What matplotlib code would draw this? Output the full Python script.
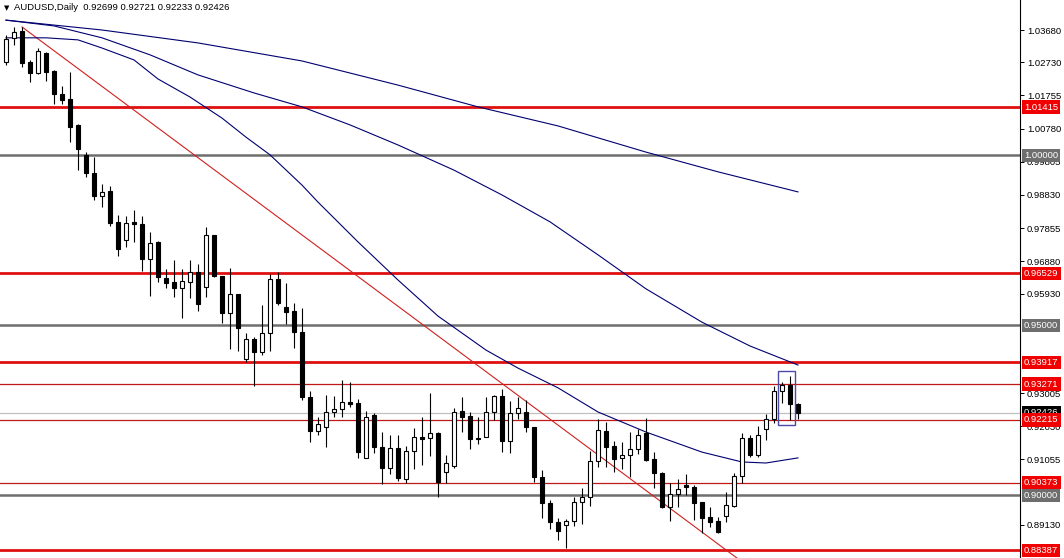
import matplotlib
matplotlib.use("Agg")
import matplotlib.pyplot as plt
import numpy as np

plt.rcParams['font.family'] = ['Liberation Sans', 'DejaVu Sans']

# daily candles AUDUSD
opens = [1.02739, 1.03445, 1.03651, 1.02739, 1.02416, 1.03004, 1.02475, 1.01798, 1.01651, 1.00887,
         1.00005, 0.99476, 0.98800, 0.98947, 0.98035, 0.97506, 0.98035, 0.97976, 0.96947, 0.97447,
         0.96389, 0.96271, 0.96095, 0.96271, 0.96565, 0.96124, 0.97653, 0.96448, 0.95360, 0.95918,
         0.94007, 0.94595, 0.94213, 0.94772, 0.96359, 0.95536, 0.95419, 0.94801, 0.92890, 0.91891,
         0.92008, 0.92449, 0.92537, 0.92743, 0.92714, 0.91097, 0.92361, 0.91420, 0.90803, 0.91391,
         0.90479, 0.91303, 0.91714, 0.91685, 0.91832, 0.90685, 0.90862, 0.92479, 0.92332, 0.91685,
         0.91714, 0.92449, 0.92920, 0.91597, 0.92420, 0.92449, 0.92008, 0.90538, 0.89774, 0.89215,
         0.89127, 0.89245, 0.89803, 0.89950, 0.91009, 0.91891, 0.91450, 0.91097, 0.91185, 0.91361,
         0.91832, 0.91067, 0.90656, 0.89656, 0.90038, 0.90303, 0.90244, 0.89803, 0.89362, 0.89245,
         0.89392, 0.89686, 0.90568, 0.91685, 0.91185, 0.91949, 0.92243, 0.93067, 0.93243, 0.92699]
highs = [1.03533, 1.03768, 1.03768, 1.02798, 1.03151, 1.03033, 1.02504, 1.02034, 1.02445, 1.00916,
         1.00093, 0.99946, 0.99152, 0.99094, 0.98241, 0.98212, 0.98388, 0.98212, 0.97741, 0.97477,
         0.96653, 0.96918, 0.96653, 0.96918, 0.96800, 0.97888, 0.97653, 0.96448, 0.96683, 0.95918,
         0.94772, 0.94654, 0.95595, 0.96506, 0.96565, 0.96242, 0.95654, 0.95507, 0.93067, 0.92302,
         0.92949, 0.92920, 0.93390, 0.93331, 0.92831, 0.92479, 0.92420, 0.91861, 0.91773, 0.91773,
         0.91450, 0.91979, 0.92302, 0.93008, 0.91861, 0.91185, 0.92567, 0.92890, 0.92449, 0.92302,
         0.92890, 0.92949, 0.93125, 0.92773, 0.92890, 0.92802, 0.92008, 0.90744, 0.89862, 0.89333,
         0.89303, 0.89950, 0.90215, 0.91303, 0.92243, 0.92155, 0.91597, 0.91567, 0.91861, 0.91949,
         0.92273, 0.91273, 0.90685, 0.90362, 0.90479, 0.90626, 0.90303, 0.89803, 0.89656, 0.89362,
         0.90097, 0.90656, 0.91832, 0.91773, 0.92038, 0.92390, 0.93214, 0.93331, 0.93508, 0.92721]
lows = [1.02651, 1.03239, 1.02592, 1.02151, 1.02386, 1.02181, 1.01504, 1.01504, 1.00387, 0.99564,
        0.99358, 0.98682, 0.98476, 0.97918, 0.97036, 0.97300, 0.97447, 0.96595, 0.95860, 0.96271,
        0.96095, 0.95830, 0.95213, 0.95801, 0.95419, 0.95830, 0.96418, 0.95066, 0.94301, 0.94243,
        0.93919, 0.93214, 0.94125, 0.94243, 0.95595, 0.95036, 0.94331, 0.92802, 0.91567, 0.91773,
        0.91420, 0.92302, 0.92302, 0.92596, 0.91097, 0.91097, 0.91244, 0.90332, 0.90626, 0.90421,
        0.90362, 0.90773, 0.90891, 0.91156, 0.89950, 0.90362, 0.90803, 0.91861, 0.91361, 0.91508,
        0.91714, 0.92214, 0.91273, 0.91244, 0.92243, 0.91861, 0.90391, 0.89333, 0.89009, 0.88686,
        0.88451, 0.89098, 0.89156, 0.89686, 0.90832, 0.90832, 0.90685, 0.90773, 0.90538, 0.91214,
        0.91009, 0.90215, 0.89627, 0.89245, 0.89656, 0.90009, 0.89274, 0.88892, 0.89068, 0.88892,
        0.89215, 0.89656, 0.90362, 0.91126, 0.91126, 0.91626, 0.92126, 0.92714, 0.92214, 0.92233]
closes = [1.03415, 1.03621, 1.02710, 1.02416, 1.03063, 1.02445, 1.01798, 1.01622, 1.00828, 1.00181,
          0.99476, 0.98800, 0.98917, 0.98006, 0.97241, 0.98006, 0.97976, 0.96947, 0.97418, 0.96418,
          0.96242, 0.96095, 0.96301, 0.96565, 0.95624, 0.97653, 0.96448, 0.95360, 0.95918, 0.94919,
          0.94595, 0.94213, 0.94772, 0.96359, 0.95654, 0.95389, 0.94801, 0.92890, 0.91891, 0.92096,
          0.92449, 0.92537, 0.92743, 0.92684, 0.91273, 0.92302, 0.91420, 0.90803, 0.91391, 0.90509,
          0.91303, 0.91714, 0.91655, 0.91832, 0.90391, 0.90950, 0.92449, 0.92302, 0.91655, 0.91655,
          0.92449, 0.92920, 0.91597, 0.92420, 0.92567, 0.92008, 0.90538, 0.89774, 0.89215, 0.88951,
          0.89245, 0.89803, 0.89950, 0.91009, 0.91920, 0.91420, 0.91067, 0.91185, 0.91361, 0.91773,
          0.91038, 0.90656, 0.89656, 0.90038, 0.90185, 0.90244, 0.89774, 0.89333, 0.89215, 0.88921,
          0.89715, 0.90568, 0.91685, 0.91185, 0.91773, 0.92243, 0.93067, 0.93243, 0.92684, 0.92426]

# moving averages (sampled at bar index)
ma_slow_idx = [0, 12, 24, 37, 49, 59, 69, 80, 89, 99]
ma_slow = [1.0397, 1.0368, 1.0330, 1.0277, 1.0206, 1.0142, 1.0086, 1.0009, 0.9951, 0.9892]
ma_mid_idx = [0, 6, 12, 18, 24, 31, 37, 43, 49, 56, 62, 68, 74, 80, 87, 93, 99]
ma_mid = [1.0397, 1.0380, 1.0345, 1.0295, 1.0236, 1.0183, 1.0142, 1.0089, 1.0030, 0.9956, 0.9883,
          0.9804, 0.9707, 0.9607, 0.9509, 0.9439, 0.9383]
ma_fast_idx = [0, 5, 9, 12, 16, 19, 23, 27, 30, 33, 37, 39, 44, 49, 54, 60, 64, 69, 74, 80, 87,
               92, 95, 99]
ma_fast = [1.0345, 1.0345, 1.0339, 1.0315, 1.0280, 1.0224, 1.0171, 1.0109, 1.0053, 1.0001, 0.9912,
           0.9862, 0.9745, 0.9633, 0.9527, 0.9427, 0.9374, 0.9316, 0.9245, 0.9186, 0.9127, 0.9098,
           0.9095, 0.9110]

# trendline anchors
trend_idx = [2, 91]
trend_px = [1.0377, 0.8822]

# horizontal levels
red_thick = [1.01415, 0.96529, 0.93917, 0.88387]
red_thin = [0.93271, 0.92215, 0.90373]
grey_levels = [1.00000, 0.95000, 0.90000]
bid = 0.92426
ticks = [1.03680, 1.02730, 1.01755, 1.00780, 0.99805, 0.98830, 0.97855, 0.96880, 0.95930,
         0.93005, 0.92030, 0.91055, 0.89130]

RED = '#e01010'
RED_THIN = '#c01818'
GREY = '#6e6e6e'
NAVY = '#000070'

fig = plt.figure(figsize=(10.64, 5.58), dpi=100)
ax = fig.add_axes([0, 0, 1020 / 1064, 1])
ax.set_xlim(-0.75, 126.75)
ax.set_ylim(0.88157, 1.04562)

for s in ['top', 'left', 'bottom']:
    ax.spines[s].set_visible(False)
ax.spines['right'].set_linewidth(0.8)
ax.set_xticks([])
ax.yaxis.tick_right()
ax.set_yticks(ticks)
ax.set_yticklabels(['%.5f' % t for t in ticks])
ax.tick_params(axis='y', length=3, width=0.7, pad=2, labelsize=6.8)

# levels
for p in red_thick:
    ax.axhline(p, color=RED, lw=2.0, zorder=1)
for p in red_thin:
    ax.axhline(p, color=RED_THIN, lw=0.9, zorder=1)
for p in grey_levels:
    ax.axhline(p, color=GREY, lw=1.8, zorder=1)
ax.axhline(bid, color='#c0c0c0', lw=0.9, zorder=1)

# trendline
slope = (trend_px[1] - trend_px[0]) / (trend_idx[1] - trend_idx[0])
tx = np.array([trend_idx[0], 100])
ax.plot(tx, trend_px[0] + slope * (tx - trend_idx[0]), color='#d02020', lw=0.8, zorder=1.5)

# MAs
ax.plot(ma_slow_idx, ma_slow, color=NAVY, lw=0.8, zorder=1.6)
ax.plot(ma_mid_idx, ma_mid, color=NAVY, lw=0.8, zorder=1.6)
ax.plot(ma_fast_idx, ma_fast, color=NAVY, lw=0.8, zorder=1.6)

# candles
o = np.array(opens); h = np.array(highs); l = np.array(lows); c = np.array(closes)
x = np.arange(len(o))
ax.vlines(x, l, h, color='black', lw=0.8, zorder=2)
bottoms = np.minimum(o, c)
heights = np.maximum(np.abs(c - o), 0.00025)
fills = ['white' if cc > oo else 'black' for oo, cc in zip(o, c)]
ax.bar(x, heights, bottom=bottoms, width=0.58, color=fills, edgecolor='black', linewidth=0.8, zorder=3)

# selection box round last two full bars
ax.add_patch(plt.Rectangle((96.5, 0.92066), 2.1, 0.01588, fill=False, ec='#4a4aa8', lw=1.0, zorder=4))

# price labels on the axis
ytr = ax.get_yaxis_transform()
def tag(p, fc):
    ax.text(1.004, p, '%.5f' % p, transform=ytr, color='white', fontsize=6.8, va='center', ha='left',
            zorder=6, bbox=dict(boxstyle='square,pad=0.22', fc=fc, ec='none'))
for p in grey_levels:
    tag(p, GREY)
tag(bid, 'black')
for p in red_thick + red_thin:
    tag(p, '#f00000')

fig.text(4 / 1064, 1 - 8 / 558, '\u25bc', fontsize=5, va='center', ha='left', family='DejaVu Sans')
fig.text(14 / 1064, 1 - 8 / 558, 'AUDUSD,Daily  0.92699 0.92721 0.92233 0.92426', fontsize=6.8,
         va='center', ha='left')

fig.savefig('out.png', dpi=100)
